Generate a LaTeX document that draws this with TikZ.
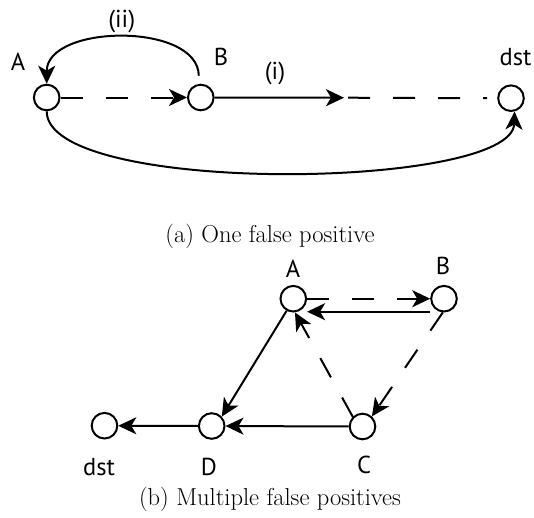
\documentclass[tikz,border=0pt]{standalone}
\usepackage{fontspec}
\newfontfamily\lblfont{PT Sans}
\usetikzlibrary{arrows.meta}
\tikzset{
  vtx/.style={circle,draw,line width=2pt,minimum size=25.6pt,inner sep=0pt},
  lbl/.style={font=\lblfont\fontsize{24.5}{28}\selectfont,inner sep=0pt},
  captxt/.style={font=\fontsize{24.5}{28}\selectfont,inner sep=0pt},
  edge/.style={line width=2pt},
  dsh/.style={dash pattern=on 22pt off 23pt},
  arr/.style={-{Stealth[length=18pt,width=17pt,inset=5pt]}}
}
\begin{document}
\begin{tikzpicture}[x=1pt,y=-1pt]
\useasboundingbox (0,0) rectangle (534,517);
% (a)
\node[vtx] (A1) at (46.7,97.5) {};
\node[vtx] (B1) at (200.8,97.5) {};
\node[vtx] (T1) at (511,98.2) {};
\coordinate (m1) at (344,97.7);
\node[lbl] (lA1) at (18,62) {A};
\node[lbl] (lB1) at (221,57) {B};
\node[lbl] (lT1) at (515.5,57) {dst};
\node[lbl] (lii) at (121.7,21) {(ii)};
\node[lbl] (li) at (275,73) {(i)};
\draw[edge,dsh,arr] (A1.east) -- (B1.west);
\draw[edge,arr] (B1.east) -- (m1);
\draw[edge,dsh,shorten <=4pt,shorten >=10pt] (m1) -- (T1.west);
\draw[edge,arr] ([shift={(-2pt,8pt)}]B1.north) .. controls (198,22) and (46.7,24) .. (A1.north);
\draw[edge,arr] (A1.south) .. controls (46.7,196) and (512,190) .. (T1.-75);
\node[captxt] (capa) at (270,236.7) {(a) One false positive};
% (b)
\node[vtx] (A2) at (293.3,298.7) {};
\node[vtx] (B2) at (444,298.7) {};
\node[vtx] (C2) at (362.5,426.5) {};
\node[vtx] (D2) at (211.7,426) {};
\node[vtx] (T2) at (104.5,425.7) {};
\node[lbl] (lA2) at (293,269) {A};
\node[lbl] (lB2) at (443,266) {B};
\node[lbl] (lC2) at (364,465) {C};
\node[lbl] (lD2) at (209,467) {D};
\node[lbl] (lT2) at (99,467) {dst};
\draw[edge,dsh,arr] (A2.east) -- (B2.west);
\draw[edge,arr] ([yshift=-13pt]B2.west) -- ([yshift=-13pt]A2.east);
\draw[edge,arr] (A2.241) -- (D2.43);
\draw[edge,dsh,arr] (B2.-95) -- (C2.47);
\draw[edge,dsh,arr] (C2.135) -- (A2.-83);
\draw[edge,arr] (C2) -- (D2);
\draw[edge,arr] (D2) -- (T2);
\node[captxt] (capb) at (270,499) {(b) Multiple false positives};
\end{tikzpicture}
\end{document}
